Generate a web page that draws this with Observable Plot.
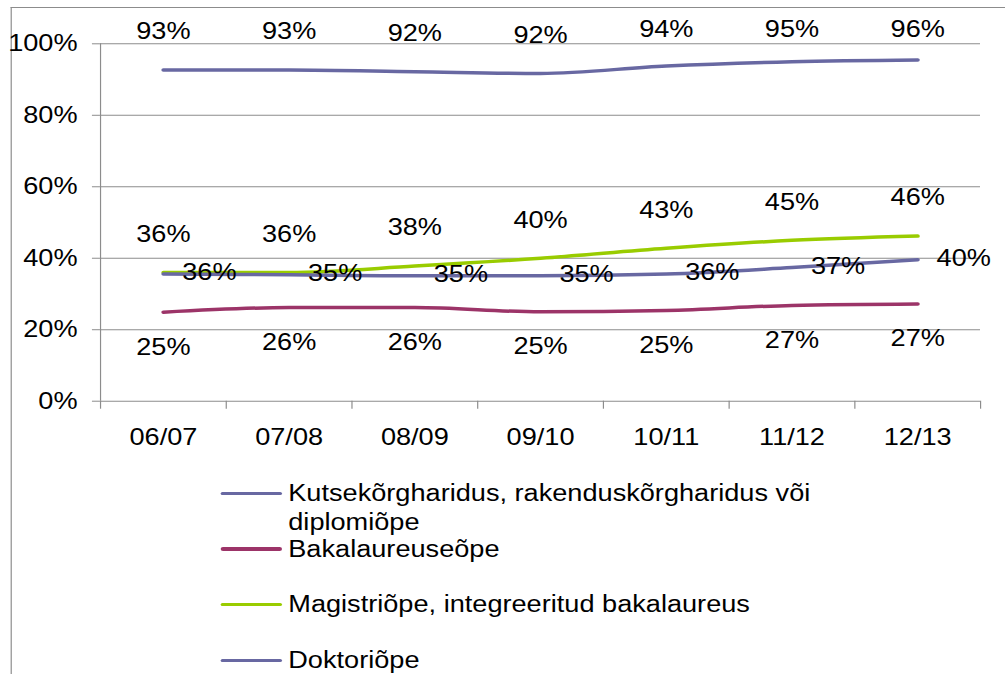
<!DOCTYPE html>
<html>
<head>
<meta charset="utf-8">
<script src="https://cdn.jsdelivr.net/npm/d3@7"></script>
<script src="https://cdn.jsdelivr.net/npm/@observablehq/plot@0.6"></script>
<style>
  html, body { margin: 0; padding: 0; background: #fff; overflow: hidden; }
  #wrap { position: absolute; left: 0; top: 0; width: 852px; height: 674px;
          transform: scaleX(1.18); transform-origin: 0 0;
          font-family: "Liberation Sans", Arial, sans-serif; }
  #border { position: absolute; left: 8.5px; top: 7px; width: 900px; height: 900px;
            border-left: 1px solid #8c8c8c; border-top: 1px solid #8c8c8c; }
  #chart { position: absolute; left: 0; top: 0; }
  #legend { position: absolute; left: 187.3px; top: 465.5px; }
  .row { position: relative; height: 55.7px; }
  .swatch { position: absolute; left: 0; top: 26.1px; width: 51.7px; height: 3.5px; border-radius: 2px; }
  .lab { position: absolute; left: 57px; top: 13.4px; width: 500px; font-size: 23px; line-height: 29px; color: #000; }
</style>
</head>
<body>
<div id="wrap">
  <div id="border"></div>
  <div id="chart"></div>
  <div id="legend"></div>
</div>
<script>
const categories = ["06/07", "07/08", "08/09", "09/10", "10/11", "11/12", "12/13"];
const seriesNames = [
  "Kutsekõrgharidus, rakenduskõrgharidus või diplomiõpe",
  "Bakalaureuseõpe",
  "Magistriõpe, integreeritud bakalaureus",
  "Doktoriõpe"
];
const kutse = [92.7, 92.7, 92.2, 91.7, 93.8, 95.0, 95.5];
const bakalaureus = [24.9, 26.2, 26.2, 25.0, 25.4, 26.8, 27.2];
const magistri = [36.0, 36.0, 37.8, 40.0, 42.8, 45.0, 46.2];
const doktori = [35.6, 35.4, 35.1, 35.1, 35.6, 37.4, 39.6];
const yTicks = [0, 20, 40, 60, 80, 100];
const colors = ["#6868a2", "#9c3468", "#99cc00", "#6868a2"];

const seriesValues = [kutse, bakalaureus, magistri, doktori];
const rows = s => seriesValues[s].map((v, i) => ({i, v, s}));
const idx = categories.map((_, i) => i);
const bounds = categories.map((_, i) => i - 0.5).concat([categories.length - 0.5]);
const fmt = d => `${Math.round(d.v)}%`;
const gray = "#8c8c8c";

const lineOpts = s => ({x: "i", y: "v", stroke: colors[s], strokeWidth: 3.5, curve: "monotone-x", strokeLinecap: "round"});
const textBase = {x: "i", y: "v", text: fmt, fill: "#000", fontSize: 23};

const plot = Plot.plot({
  width: 852,
  height: 465,
  marginLeft: 84.7,
  marginRight: 21.5,
  marginTop: 43.3,
  marginBottom: 64.3,
  x: {type: "linear", domain: [-0.5, categories.length - 0.5]},
  y: {domain: [0, 100]},
  style: {fontFamily: "Liberation Sans, Arial, sans-serif", fontSize: "23px", color: "#000", background: "transparent", overflow: "visible"},
  marks: [
    Plot.gridY(yTicks, {stroke: gray, strokeOpacity: 1}),
    Plot.axisY(yTicks, {tickSize: 6.8, tickPadding: 12.7, tickFormat: d => d + "%", stroke: gray, label: null, fontSize: 23}),
    Plot.ruleX([bounds[0]], {stroke: gray}),
    Plot.axisX(bounds, {tickSize: 8, tickFormat: () => "", stroke: gray, label: null}),
    Plot.axisX(idx, {tickSize: 0, tickPadding: 27, tickFormat: i => categories[i], label: null, fontSize: 23}),
    Plot.line(rows(0), lineOpts(0)),
    Plot.line(rows(1), lineOpts(1)),
    Plot.line(rows(2), lineOpts(2)),
    Plot.line(rows(3), lineOpts(3)),
    // labels above the top series are kept inside the chart area (as in the original)
    Plot.text(rows(0), {...textBase, y: d => Math.min(d.v, 93.2), dy: -38}),
    Plot.text(rows(1), {...textBase, dy: 35}),
    Plot.text(rows(2), {...textBase, dy: -38}),
    Plot.text(rows(3), {...textBase, dx: 16, dy: -1, textAnchor: "start"})
  ]
});
document.getElementById("chart").appendChild(plot);

const legend = d3.select("#legend");
seriesNames.forEach((name, s) => {
  const row = legend.append("div").attr("class", "row");
  row.append("div").attr("class", "swatch").style("background", colors[s]);
  row.append("div").attr("class", "lab").text(name);
});
</script>
</body>
</html>
